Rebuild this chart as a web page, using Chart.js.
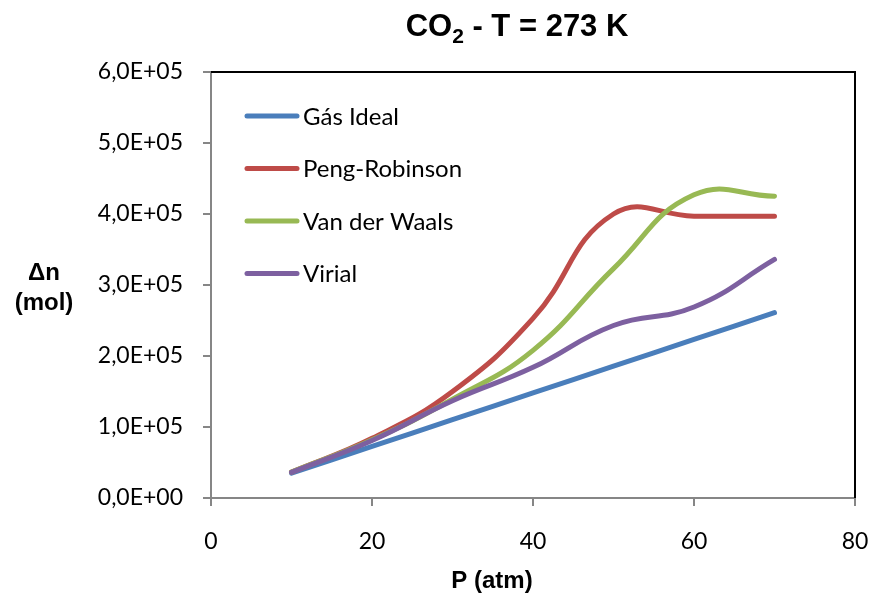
<!DOCTYPE html>
<html>
<head>
<meta charset="utf-8">
<script src="https://cdn.jsdelivr.net/npm/chart.js@4/dist/chart.umd.min.js"></script>
<style>
  html, body { margin: 0; padding: 0; background: #ffffff; }
  #wrap { width: 875px; height: 601px; position: relative; }
</style>
</head>
<body>
<div id="wrap"><canvas id="c" width="875" height="601"></canvas></div>
<script>
// Pressure (atm) at which each model was evaluated
const pressures = [10, 20, 30, 40, 50, 60, 70];

// Δn (mol) for CO2 at 273 K, per equation of state
const gasIdeal     = [35000, 72700, 110300, 148000, 185700, 223300, 261000];
const pengRobinson = [36500, 84000, 150000, 253000, 400000, 397000, 397000];
const vanDerWaals  = [36500, 82000, 139000, 208000, 323000, 427000, 425000];
const virial       = [36000, 81000, 137000, 184000, 243000, 269000, 336000];

const seriesNames  = ['Gás Ideal', 'Peng-Robinson', 'Van der Waals', 'Virial'];
const seriesColors = ['#4a7ebb', '#be4b48', '#98b954', '#7d60a0'];

const xTickValues = [0, 20, 40, 60, 80];
const yTickValues = [0, 100000, 200000, 300000, 400000, 500000, 600000];
const yTickLabels = ['0,0E+00', '1,0E+05', '2,0E+05', '3,0E+05', '4,0E+05', '5,0E+05', '6,0E+05'];

const titleParts = { lead: 'CO', sub: '2', tail: ' - T = 273 K' };
const xAxisTitle = 'P (atm)';
const yAxisTitleLines = ['Δn', '(mol)'];

const tickFont = 'Lato';
const boldFont = '"Liberation Sans", Arial, sans-serif';

// Title with a real subscript, horizontal y-axis title, x-axis title,
// the black frame on the top/right of the plot area and the inset legend.
const decorations = {
  id: 'decorations',
  afterDraw(chart) {
    const ctx = chart.ctx;
    const area = chart.chartArea;
    ctx.save();

    // frame on top and right
    ctx.strokeStyle = '#000000';
    ctx.lineWidth = 2;
    ctx.beginPath();
    ctx.moveTo(area.left, area.top);
    ctx.lineTo(area.right, area.top);
    ctx.lineTo(area.right, area.bottom);
    ctx.stroke();

    // chart title
    ctx.fillStyle = '#000000';
    ctx.textBaseline = 'alphabetic';
    ctx.textAlign = 'left';
    const bigFont = 'bold 31px ' + boldFont;
    const subFont = 'bold 21px ' + boldFont;
    ctx.font = bigFont;
    const wLead = ctx.measureText(titleParts.lead).width;
    const wTail = ctx.measureText(titleParts.tail).width;
    ctx.font = subFont;
    const wSub = ctx.measureText(titleParts.sub).width;
    const total = wLead + wSub + wTail;
    let tx = 517 - total / 2;
    const ty = 36;
    ctx.font = bigFont;
    ctx.fillText(titleParts.lead, tx, ty);
    tx += wLead;
    ctx.font = subFont;
    ctx.fillText(titleParts.sub, tx, ty + 7);
    tx += wSub;
    ctx.font = bigFont;
    ctx.fillText(titleParts.tail, tx, ty);

    // axis titles
    ctx.font = 'bold 24px ' + boldFont;
    ctx.textAlign = 'center';
    ctx.fillText(xAxisTitle, 492, 588);
    ctx.fillText(yAxisTitleLines[0], 44, 280);
    ctx.fillText(yAxisTitleLines[1], 44, 310);

    // legend inside the plot area
    ctx.textAlign = 'left';
    ctx.textBaseline = 'middle';
    ctx.font = '24px ' + tickFont;
    chart.data.datasets.forEach((ds, i) => {
      const y = 116 + i * 52.5;
      ctx.strokeStyle = ds.borderColor;
      ctx.lineWidth = 5;
      ctx.lineCap = 'round';
      ctx.beginPath();
      ctx.moveTo(247, y);
      ctx.lineTo(297, y);
      ctx.stroke();
      ctx.fillStyle = '#000000';
      ctx.fillText(ds.label, 303, y + 1);
    });

    ctx.restore();
  }
};

const datasets = seriesNames.map((name, i) => {
  const values = [gasIdeal, pengRobinson, vanDerWaals, virial][i];
  return {
    label: name,
    data: pressures.map((p, k) => ({ x: p, y: values[k] })),
    borderColor: seriesColors[i],
    backgroundColor: seriesColors[i],
    borderWidth: 5,
    borderCapStyle: 'round',
    borderJoinStyle: 'round',
    pointRadius: 0,
    pointHoverRadius: 0,
    tension: 0.45,
    fill: false,
    order: seriesNames.length - 1 - i
  };
});

new Chart(document.getElementById('c'), {
  type: 'line',
  data: { datasets },
  options: {
    responsive: false,
    animation: false,
    devicePixelRatio: 1,
    layout: { padding: { left: 0, top: 72, right: 20, bottom: 0 } },
    plugins: {
      legend: { display: false },
      title: { display: false },
      tooltip: { enabled: false }
    },
    scales: {
      x: {
        type: 'linear',
        min: 0,
        max: 80,
        afterBuildTicks(scale) { scale.ticks = xTickValues.map(v => ({ value: v })); },
        afterFit(scale) {
          scale.height = 103;
          scale.paddingLeft = 0;
          scale.paddingRight = 0;
        },
        ticks: {
          color: '#000000',
          font: { family: tickFont, size: 23 },
          padding: 22,
          maxRotation: 0,
          callback: v => String(v)
        },
        grid: { drawOnChartArea: false, drawTicks: true, tickLength: 8, color: '#868686', lineWidth: 2 },
        border: { display: true, color: '#868686', width: 2 }
      },
      y: {
        type: 'linear',
        min: 0,
        max: 600000,
        afterBuildTicks(scale) { scale.ticks = yTickValues.map(v => ({ value: v })); },
        afterFit(scale) {
          scale.width = 211;
          scale.paddingTop = 0;
          scale.paddingBottom = 0;
        },
        ticks: {
          color: '#000000',
          font: { family: tickFont, size: 23 },
          padding: 20,
          callback: (v) => yTickLabels[yTickValues.indexOf(v)]
        },
        grid: { drawOnChartArea: false, drawTicks: true, tickLength: 8, color: '#868686', lineWidth: 2 },
        border: { display: true, color: '#868686', width: 2 }
      }
    }
  },
  plugins: [decorations]
});
</script>
</body>
</html>
